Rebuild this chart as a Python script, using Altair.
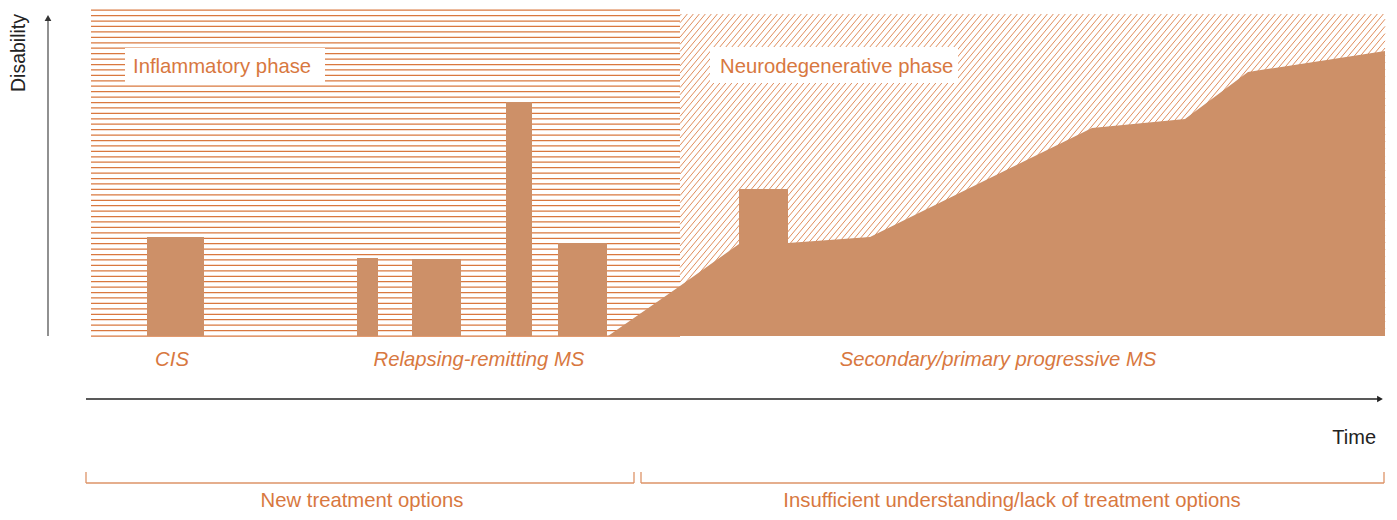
import altair as alt
import pandas as pd
import numpy as np

# ---------------- data (schematic units: time along x, disability above baseline) ----------------
bar_start = [147, 357, 412, 506, 558, 739]
bar_end = [204, 378, 461, 532, 607, 788]
bar_top = [99, 78, 77, 234, 93, 147]

prog_time = [608, 680, 739, 788, 870, 1092, 1185, 1248, 1385]
prog_dis = [0, 50, 92, 93, 99, 208, 217, 264, 285]

phase_names = ["Inflammatory phase", "Neurodegenerative phase"]
phase_start = [91, 680]
phase_end = [680, 1385]
phase_top = [326, 322]
phase_box_start = [125, 710]
phase_box_end = [325, 958]
phase_box_bottom = [253, 253]
phase_box_top = [288, 289]
phase_label_x = [133, 720]
phase_label_y = [263, 263]

stage_names = ["CIS", "Relapsing-remitting MS", "Secondary/primary progressive MS"]
stage_x = [172, 479, 998]
stage_y = [-30, -30, -30]

bracket_labels = ["New treatment options",
                  "Insufficient understanding/lack of treatment options"]
bracket_start = [86, 641]
bracket_end = [634, 1384]
bracket_mid = [362, 1012]

# ---------------- style ----------------
FONT = "Liberation Sans"
ORANGE_TXT = "#D8783F"
HATCH = "#D9783F"
FILL = "#CD9068"
FS = 20.3

W, H = 1381, 504
XS = alt.Scale(domain=[8, 8 + W], nice=False, zero=False)
YS = alt.Scale(domain=[336 - (8 + H), 328], nice=False, zero=False)


def X(f):
    return alt.X(f, type="quantitative", scale=XS, axis=None)


def Y(f):
    return alt.Y(f, type="quantitative", scale=YS, axis=None)


# ---------------- hatch texture (decoration) ----------------
h_levels = np.arange(0, phase_top[0] + 0.01, 5.43)
hatch_h = pd.DataFrame({"x": phase_start[0], "x2": phase_end[0], "y": h_levels})

k = 1.2          # slope of diagonal hatch
step = 6.0       # horizontal spacing
x0, x1 = phase_start[1], phase_end[1]
top = phase_top[1]
rows = []
c = -k * (x1 - x0)
while c < top:
    ta = x0 + (0 - c) / k
    tb = x0 + (top - c) / k
    ta, tb = max(ta, x0), min(tb, x1)
    if tb > ta:
        rows.append({"x": ta, "y": c + k * (ta - x0), "x2": tb, "y2": c + k * (tb - x0)})
    c += k * step
hatch_d = pd.DataFrame(rows)

hh = alt.Chart(hatch_h).mark_rule(color=HATCH, strokeWidth=1.25).encode(
    x=X("x"), x2="x2", y=Y("y"))
hd = alt.Chart(hatch_d).mark_rule(color=HATCH, strokeWidth=0.85).encode(
    x=X("x"), x2="x2", y=Y("y"), y2="y2")

phases = pd.DataFrame({
    "name": phase_names, "bx": phase_box_start, "bx2": phase_box_end,
    "by": phase_box_bottom, "by2": phase_box_top,
    "lx": phase_label_x, "ly": phase_label_y,
})
boxes = alt.Chart(phases).mark_rect(color="white").encode(
    x=X("bx"), x2="bx2", y=Y("by"), y2="by2")
phase_txt = alt.Chart(phases).mark_text(
    align="left", baseline="alphabetic", font=FONT, fontSize=FS, color=ORANGE_TXT
).encode(x=X("lx"), y=Y("ly"), text="name")

# ---------------- disease course ----------------
prog = pd.DataFrame({"t": prog_time, "d": prog_dis, "base": 0})
area = alt.Chart(prog).mark_area(color=FILL, opacity=1, interpolate="linear").encode(
    x=X("t"), y=Y("d"), y2="base")

bars = pd.DataFrame({"s": bar_start, "e": bar_end, "h": bar_top, "base": 0})
relapses = alt.Chart(bars).mark_rect(color=FILL).encode(
    x=X("s"), x2="e", y=Y("h"), y2="base")

stages = pd.DataFrame({"name": stage_names, "x": stage_x, "y": stage_y})
stage_txt = alt.Chart(stages).mark_text(
    align="center", baseline="alphabetic", font=FONT, fontSize=FS,
    fontStyle="italic", color=ORANGE_TXT
).encode(x=X("x"), y=Y("y"), text="name")

# ---------------- axes (arrows) ----------------
yax = pd.DataFrame({"x": [48], "y": [0], "y2": [316]})
y_line = alt.Chart(yax).mark_rule(color="#555555", strokeWidth=1.3).encode(
    x=X("x"), y=Y("y"), y2="y2")
y_head = alt.Chart(pd.DataFrame({"x": [48], "y": [318]})).mark_point(
    shape="triangle-up", filled=True, color="#333333", size=45, opacity=1
).encode(x=X("x"), y=Y("y"))
y_title = alt.Chart(pd.DataFrame({"x": [19], "y": [283], "t": ["Disability"]})).mark_text(
    angle=270, align="center", baseline="middle", font=FONT, fontSize=19.5, color="#222222"
).encode(x=X("x"), y=Y("y"), text="t")

xax = pd.DataFrame({"x": [86], "x2": [1378], "y": [-63]})
x_line = alt.Chart(xax).mark_rule(color="#222222", strokeWidth=1.3).encode(
    x=X("x"), x2="x2", y=Y("y"))
x_head = alt.Chart(pd.DataFrame({"x": [1380], "y": [-63]})).mark_point(
    shape="triangle-right", filled=True, color="#222222", size=45, opacity=1
).encode(x=X("x"), y=Y("y"))
x_title = alt.Chart(pd.DataFrame({"x": [1376], "y": [-108], "t": ["Time"]})).mark_text(
    align="right", baseline="alphabetic", font=FONT, fontSize=20, color="#222222"
).encode(x=X("x"), y=Y("y"), text="t")

# ---------------- brackets ----------------
br = pd.DataFrame({"s": bracket_start, "e": bracket_end, "m": bracket_mid,
                   "label": bracket_labels, "lo": -147, "hi": -136, "ty": -171})
BRC = "#DD9367"
br_h = alt.Chart(br).mark_rule(color=BRC, strokeWidth=1.3).encode(x=X("s"), x2="e", y=Y("lo"))
br_l = alt.Chart(br).mark_rule(color=BRC, strokeWidth=1.3).encode(x=X("s"), y=Y("lo"), y2="hi")
br_r = alt.Chart(br).mark_rule(color=BRC, strokeWidth=1.3).encode(x=X("e"), y=Y("lo"), y2="hi")
br_t = alt.Chart(br).mark_text(
    align="center", baseline="alphabetic", font=FONT, fontSize=FS, color=ORANGE_TXT
).encode(x=X("m"), y=Y("ty"), text="label")

chart = alt.layer(
    hh, hd, boxes, phase_txt, area, relapses, stage_txt,
    y_line, y_head, y_title, x_line, x_head, x_title,
    br_h, br_l, br_r, br_t,
).properties(
    width=W, height=H, padding=0, autosize=alt.AutoSizeParams(type="none")
).configure_view(stroke=None)

chart.save("out.html", embed_options={"renderer": "svg", "actions": False})
